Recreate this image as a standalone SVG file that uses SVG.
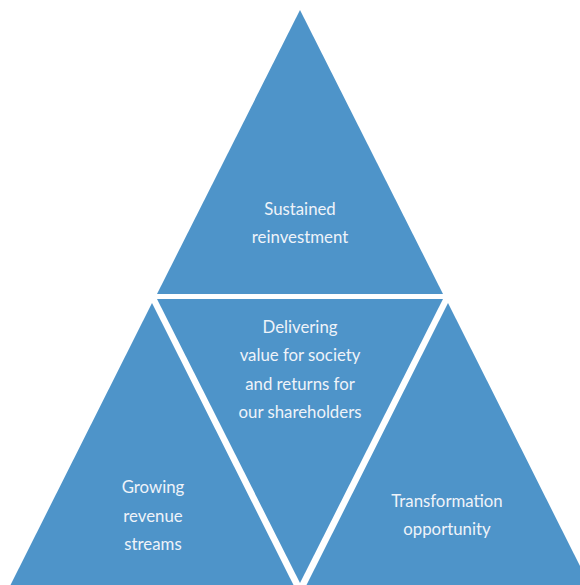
<svg xmlns="http://www.w3.org/2000/svg" width="580" height="585" viewBox="0 0 580 585">
<style>
.tri{fill:#4E94C9;}
.t{font-family:Lato,"Open Sans","Liberation Sans",sans-serif;font-size:16.8px;fill:#EEF3F9;text-anchor:middle;}
</style>
<rect width="580" height="585" fill="#FFFFFF"/>
<g id="top">
<polygon class="tri" points="300,10 443,294 157,294"/>
<text class="t" x="300" y="215">Sustained</text>
<text class="t" x="300" y="243">reinvestment</text>
</g>
<g id="center">
<polygon class="tri" points="157,299 443,299 300,583"/>
<text class="t" x="300" y="333">Delivering</text>
<text class="t" x="300" y="361">value for society</text>
<text class="t" x="300" y="390">and returns for</text>
<text class="t" x="300" y="418">our shareholders</text>
</g>
<g id="left">
<polygon class="tri" points="152,303 296,590 8,590"/>
<text class="t" x="153" y="493">Growing</text>
<text class="t" x="153" y="522">revenue</text>
<text class="t" x="153" y="550">streams</text>
</g>
<g id="right">
<polygon class="tri" points="448,303 592,590 304,590"/>
<text class="t" x="447" y="507">Transformation</text>
<text class="t" x="447" y="535">opportunity</text>
</g>
<g id="connectors"></g>
</svg>
